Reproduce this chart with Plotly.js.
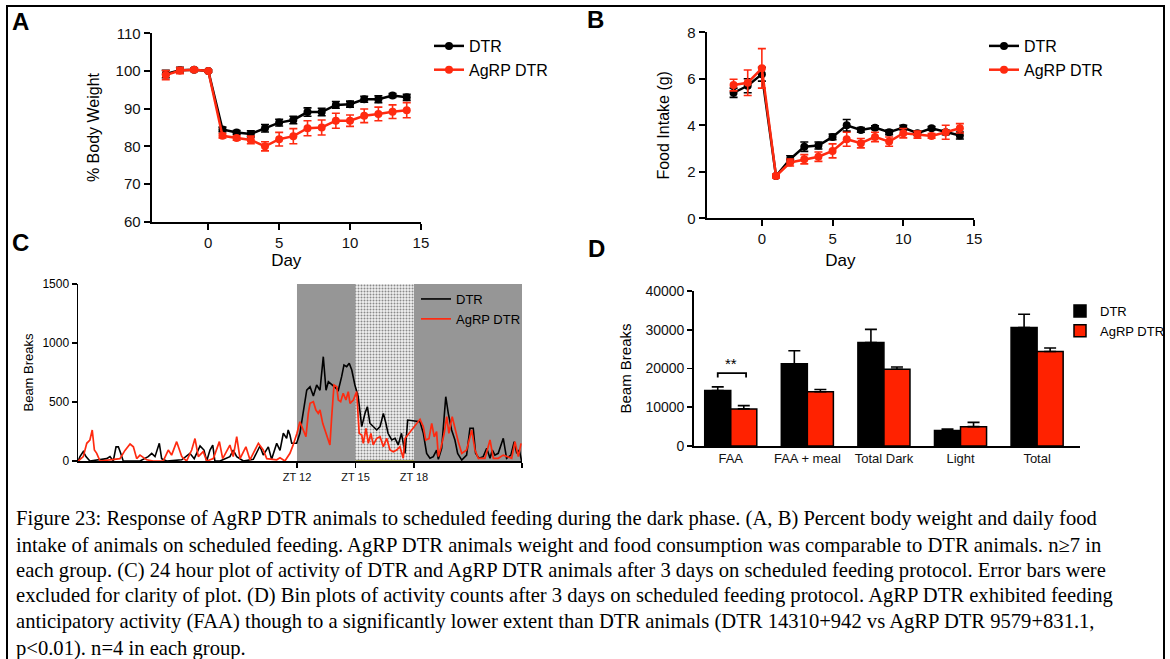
<!DOCTYPE html>
<html><head><meta charset="utf-8">
<script src="https://cdn.plot.ly/plotly-3.0.1.min.js"></script>
<style>html,body{margin:0;padding:0;background:#fff;}#chart{width:1170px;height:659px;}</style>
</head><body><div id="chart"></div>
<script>
// ---------- Panel A: % body weight ----------
const daysA = [-3,-2,-1,0,1,2,3,4,5,6,7,8,9,10,11,12,13,14];
const bwDtr    = [99.2,100.2,100.3,100.0,84.5,83.7,83.3,84.8,86.3,87.0,89.1,89.1,91.0,91.2,92.5,92.5,93.5,93.0];
const bwDtrErr = [1.0,0.8,0.4,0.3,0.6,0.5,0.8,1.0,0.9,1.0,1.1,1.0,0.9,0.8,0.8,0.9,0.5,0.8];
const bwAgrp    = [98.9,100.1,100.3,100.0,82.8,82.2,81.7,80.0,81.9,82.7,84.8,85.0,86.8,86.8,88.1,88.6,89.2,89.6];
const bwAgrpErr = [1.2,0.8,0.4,0.3,0.6,0.6,1.0,1.2,1.8,2.0,2.0,2.0,2.0,1.5,1.8,1.8,1.8,2.0];

// ---------- Panel B: food intake ----------
const daysB = [-2,-1,0,1,2,3,4,5,6,7,8,9,10,11,12,13,14];
const fiDtr    = [5.4,5.7,6.2,1.82,2.54,3.08,3.13,3.5,4.0,3.8,3.9,3.7,3.9,3.66,3.87,3.7,3.56];
const fiDtrErr = [0.2,0.3,0.3,0.05,0.15,0.2,0.15,0.12,0.25,0.1,0.08,0.1,0.1,0.1,0.08,0.1,0.15];
const fiAgrp    = [5.73,5.83,6.45,1.82,2.4,2.54,2.65,2.9,3.4,3.23,3.5,3.3,3.66,3.6,3.54,3.7,3.87];
const fiAgrpErr = [0.25,0.55,0.85,0.08,0.15,0.2,0.2,0.3,0.3,0.2,0.2,0.2,0.2,0.15,0.1,0.3,0.2];

// ---------- Panel C: 24 h activity (ZT hours, beam breaks) ----------
const ztDtr = [0.78,0.87,1.04,1.18,1.38,1.90,2.24,2.41,2.58,2.72,2.84,2.96,3.09,3.95,4.37,4.55,4.72,4.94,5.06,5.32,6.09,6.51,6.73,7.03,7.23,7.37,7.54,7.68,7.79,8.05,8.56,8.73,8.91,9.25,9.76,10.10,10.27,10.53,10.70,10.96,11.13,11.30,11.47,11.55,11.64,11.73,11.98,12.15,12.32,12.50,12.67,12.84,13.01,13.18,13.35,13.49,13.61,13.78,13.95,14.12,14.29,14.41,14.55,14.68,14.81,14.97,15.14,15.32,15.49,15.61,15.74,15.91,16.09,16.26,16.43,16.56,16.67,16.86,17.03,17.19,17.36,17.54,17.68,18.31,18.48,18.65,18.82,18.99,19.16,19.25,19.42,19.63,19.76,19.93,20.10,20.24,20.45,20.70,20.87,21.04,21.16,21.33,21.55,21.73,21.90,22.02,22.15,22.32,22.58,22.75,22.97,23.14,23.27,23.40,23.52];
const beamDtr = [0,37,80,37,0,10,20,37,0,120,120,65,0,0,37,65,37,150,20,0,10,65,20,127,93,0,93,135,0,0,37,93,37,0,14,127,50,120,14,150,90,235,192,263,220,150,150,235,404,600,630,550,644,600,884,600,672,650,630,600,715,814,800,828,771,644,545,291,404,460,320,291,263,291,404,320,235,178,192,136,235,65,347,333,234,65,23,37,93,14,107,545,404,263,178,65,8,50,277,277,65,23,37,107,23,93,50,65,192,23,50,164,65,93,0];
const ztAgrp = [0.78,1.04,1.22,1.38,1.50,1.61,1.73,1.90,2.41,2.92,3.18,3.44,3.61,3.78,3.95,4.29,4.63,5.14,5.40,5.57,5.83,6.09,6.34,6.60,6.77,6.94,7.19,7.37,7.71,8.02,8.19,8.56,8.73,8.91,9.08,9.38,9.59,10.02,10.27,10.45,10.96,11.13,11.38,11.64,11.79,12.00,12.15,12.32,12.46,12.58,12.67,12.84,12.97,13.09,13.18,13.32,13.44,13.55,13.69,13.78,13.90,14.04,14.12,14.24,14.37,14.51,14.63,14.72,14.89,15.06,15.19,15.32,15.40,15.54,15.66,15.79,15.91,16.09,16.26,16.43,16.60,16.77,16.94,17.11,17.28,17.45,17.54,18.31,18.48,18.60,18.77,18.91,19.04,19.16,19.25,19.38,19.55,19.68,19.79,19.96,20.10,20.27,20.45,20.70,20.96,21.13,21.30,21.64,21.90,22.07,22.32,22.58,23.01,23.18,23.35,23.49];
const beamAgrp = [0,37,150,178,263,93,65,0,10,20,90,144,120,20,50,10,0,0,93,50,164,37,0,93,190,37,80,0,20,164,20,135,37,206,20,120,10,150,93,20,10,28,0,65,130,235,333,262,206,404,489,502,432,404,432,319,263,220,136,375,644,630,517,503,574,517,588,489,517,588,234,220,150,277,150,234,136,192,206,121,192,93,79,93,121,23,190,353,291,178,190,319,205,249,37,110,235,376,235,376,277,164,65,93,263,93,23,23,178,23,23,50,23,164,37,150];
const ztTicks = [12,15,18];
const ztLabels = ['ZT 12','ZT 15','ZT 18'];

// ---------- Panel D: bin plots ----------
const binCats = ['FAA','FAA + meal','Total Dark','Light','Total'];
const binDtr    = [14310,21200,26700,4000,30600];
const binDtrErr = [942,3400,3400,400,3400];
const binAgrp    = [9579,14000,19800,5000,24400];
const binAgrpErr = [831.1,600,600,1100,900];

const captionLines = [
  'Figure 23: Response of AgRP DTR animals to scheduled feeding during the dark phase. (A, B) Percent body weight and daily food',
  'intake of animals on scheduled feeding. AgRP DTR animals weight and food consumption was comparable to DTR animals. n≥7 in',
  'each group. (C) 24 hour plot of activity of DTR and AgRP DTR animals after 3 days on scheduled feeding protocol. Error bars were',
  'excluded for clarity of plot. (D) Bin plots of activity counts after 3 days on scheduled feeding protocol. AgRP DTR exhibited feeding',
  'anticipatory activity (FAA) though to a significantly lower extent than DTR animals (DTR 14310+942 vs AgRP DTR 9579+831.1,',
  'p&lt;0.01). n=4 in each group.'
];

// ---------- layout helpers ----------
const W = 1170, H = 659;
const fx = v => v / W;
const fy = v => 1 - v / H;
const RED = '#ff2a10';
const SANS = 'Liberation Sans, Arial, sans-serif';

function axis(extra) {
  return Object.assign({
    showline: true, linecolor: '#000', linewidth: 2, ticks: 'outside', ticklen: 6,
    tickwidth: 2, tickcolor: '#000', showgrid: false, zeroline: false, fixedrange: true,
    tickfont: {family: SANS, size: 15, color: '#111'}
  }, extra);
}
function errs(arr, color) {
  return {type: 'data', array: arr, color: color, thickness: 1.6, width: 4};
}

const traces = [
  // A
  {x: daysA, y: bwDtr, error_y: errs(bwDtrErr, '#000'), mode: 'lines+markers', name: 'DTR',
   line: {color: '#000', width: 2.5}, marker: {size: 8, color: '#000'}, xaxis: 'x', yaxis: 'y', legend: 'legend'},
  {x: daysA, y: bwAgrp, error_y: errs(bwAgrpErr, RED), mode: 'lines+markers', name: 'AgRP DTR',
   line: {color: RED, width: 2.5}, marker: {size: 8, color: RED}, xaxis: 'x', yaxis: 'y', legend: 'legend'},
  // B
  {x: daysB, y: fiDtr, error_y: errs(fiDtrErr, '#000'), mode: 'lines+markers', name: 'DTR',
   line: {color: '#000', width: 2.5}, marker: {size: 8, color: '#000'}, xaxis: 'x2', yaxis: 'y2', legend: 'legend2'},
  {x: daysB, y: fiAgrp, error_y: errs(fiAgrpErr, RED), mode: 'lines+markers', name: 'AgRP DTR',
   line: {color: RED, width: 2.5}, marker: {size: 8, color: RED}, xaxis: 'x2', yaxis: 'y2', legend: 'legend2'},
  // C stippled window (ZT15-ZT18)
  {type: 'bar', x: [16.5], y: [1500], width: [3], xaxis: 'x3', yaxis: 'y3', showlegend: false, hoverinfo: 'skip',
   marker: {color: '#e6e6e6', line: {width: 0},
            pattern: {shape: '.', fgcolor: '#8a8a8a', bgcolor: '#f2f2f2', size: 3, solidity: 0.35, fillmode: 'replace'}}},
  {x: ztDtr, y: beamDtr, mode: 'lines', name: 'DTR', line: {color: '#000', width: 1.6},
   xaxis: 'x3', yaxis: 'y3', legend: 'legend3'},
  {x: ztAgrp, y: beamAgrp, mode: 'lines', name: 'AgRP DTR', line: {color: RED, width: 1.7},
   xaxis: 'x3', yaxis: 'y3', legend: 'legend3'},
  // D
  {type: 'bar', x: binCats, y: binDtr, name: 'DTR', xaxis: 'x4', yaxis: 'y4', legend: 'legend4',
   marker: {color: '#000', line: {color: '#000', width: 1.5}},
   error_y: {type: 'data', array: binDtrErr, arrayminus: binDtrErr.map(() => 0), symmetric: false, color: '#000', thickness: 1.6, width: 6}},
  {type: 'bar', x: binCats, y: binAgrp, name: 'AgRP DTR', xaxis: 'x4', yaxis: 'y4', legend: 'legend4',
   marker: {color: '#ff2200', line: {color: '#000', width: 1.5}},
   error_y: {type: 'data', array: binAgrpErr, arrayminus: binAgrpErr.map(() => 0), symmetric: false, color: '#000', thickness: 1.6, width: 6}}
];

const legendBase = {bgcolor: 'rgba(0,0,0,0)', xanchor: 'left', yanchor: 'top', tracegroupgap: 0};

const annotations = [
  {text: '<b>A</b>', x: fx(10), y: fy(22), xref: 'paper', yref: 'paper', xanchor: 'left', yanchor: 'middle', showarrow: false, font: {family: SANS, size: 24, color: '#000'}},
  {text: '<b>B</b>', x: fx(585), y: fy(20), xref: 'paper', yref: 'paper', xanchor: 'left', yanchor: 'middle', showarrow: false, font: {family: SANS, size: 24, color: '#000'}},
  {text: '<b>C</b>', x: fx(10), y: fy(242), xref: 'paper', yref: 'paper', xanchor: 'left', yanchor: 'middle', showarrow: false, font: {family: SANS, size: 24, color: '#000'}},
  {text: '<b>D</b>', x: fx(586), y: fy(248), xref: 'paper', yref: 'paper', xanchor: 'left', yanchor: 'middle', showarrow: false, font: {family: SANS, size: 24, color: '#000'}},
  {text: '**', x: 0, y: 21300, xref: 'x4', yref: 'y4', showarrow: false, font: {family: SANS, size: 15, color: '#000'}}
];
const captionY = [518, 545, 570, 595, 621, 648];
captionLines.forEach((t, i) => annotations.push({
  text: t, x: fx(14), y: fy(captionY[i]), xref: 'paper', yref: 'paper', xanchor: 'left', yanchor: 'middle',
  showarrow: false, font: {family: 'Liberation Serif, Times New Roman, serif', size: 20.6, color: '#000'}
}));

const layout = {
  width: W, height: H, margin: {l: 0, r: 0, t: 0, b: 0}, paper_bgcolor: '#fff', plot_bgcolor: 'rgba(0,0,0,0)',
  showlegend: true, barmode: 'group', bargap: 0.32, bargroupgap: 0,
  font: {family: SANS, color: '#000'},
  // A
  xaxis: axis({domain: [fx(151.6), fx(420.9)], range: [-4, 15], tickvals: [0,5,10,15], anchor: 'y',
    title: {text: 'Day', font: {family: SANS, size: 17}, standoff: 2}}),
  yaxis: axis({domain: [fy(221.7), fy(33.3)], range: [60, 110], dtick: 10, anchor: 'x',
    title: {text: '% Body Weight', font: {family: SANS, size: 16}, standoff: 12}}),
  // B
  xaxis2: axis({domain: [fx(706.7), fx(974)], range: [-3.9, 15], tickvals: [0,5,10,15], anchor: 'y2',
    title: {text: 'Day', font: {family: SANS, size: 17}, standoff: 8}}),
  yaxis2: axis({domain: [fy(218.3), fy(32.3)], range: [0, 8], dtick: 2, anchor: 'x2',
    title: {text: 'Food Intake (g)', font: {family: SANS, size: 16}, standoff: 14}}),
  // C
  xaxis3: axis({domain: [fx(78), fx(522)], range: [0.77, 23.54], tickvals: ztTicks.concat([23.54]), ticktext: ztLabels.concat(['']),
    anchor: 'y3', linewidth: 1.5, tickwidth: 1.5, ticklen: 5, tickfont: {family: SANS, size: 11, color: '#111'}}),
  yaxis3: axis({domain: [fy(461), fy(284)], range: [0, 1500], tickvals: [0,500,1000,1500], anchor: 'x3',
    linewidth: 1.5, tickwidth: 1.5, ticklen: 5, tickfont: {family: SANS, size: 12, color: '#000'},
    title: {text: 'Beam Breaks', font: {family: SANS, size: 13}, standoff: 6}}),
  // D
  xaxis4: axis({domain: [fx(694), fx(1080)], range: [-0.48, 4.56], type: 'category', anchor: 'y4', ticks: '',
    linewidth: 1.8, tickfont: {family: SANS, size: 13, color: '#111'}}),
  yaxis4: axis({domain: [fy(446), fy(291)], range: [0, 40000], dtick: 10000, tickformat: 'd', anchor: 'x4', linewidth: 1.8, tickwidth: 1.8, ticklen: 5,
    tickfont: {family: SANS, size: 14, color: '#111'},
    title: {text: 'Beam Breaks', font: {family: SANS, size: 15}, standoff: 10}}),
  legend:  Object.assign({}, legendBase, {x: fx(429), y: fy(29), font: {family: SANS, size: 16, color: '#000'}}),
  legend2: Object.assign({}, legendBase, {x: fx(984), y: fy(29), font: {family: SANS, size: 16, color: '#000'}}),
  legend3: Object.assign({}, legendBase, {x: fx(416), y: fy(284), font: {family: SANS, size: 13, color: '#000'}}),
  legend4: Object.assign({}, legendBase, {x: fx(1060), y: fy(296), font: {family: SANS, size: 13, color: '#000'}}),
  shapes: [
    // dark phase shading in C
    {type: 'rect', xref: 'x3', yref: 'y3', x0: 12, x1: 23.54, y0: 0, y1: 1500, fillcolor: '#969696', line: {width: 0}, layer: 'below'},
    {type: 'line', xref: 'x3', yref: 'y3', x0: 15, x1: 18, y0: 0, y1: 0, line: {color: '#a3a35a', width: 2}},
    // significance bracket in D
    {type: 'path', xref: 'x4', yref: 'y4', path: 'M -0.17,17700 L -0.17,18800 L 0.2,18800 L 0.2,17700', line: {color: '#000', width: 1.8}},
    // frame
    {type: 'rect', xref: 'paper', yref: 'paper', x0: fx(7), x1: fx(1164), y0: -0.02, y1: fy(6), line: {color: '#000', width: 2}, fillcolor: 'rgba(0,0,0,0)'}
  ],
  annotations: annotations
};

Plotly.newPlot('chart', traces, layout, {displayModeBar: false, staticPlot: true});
</script>
</body></html>
